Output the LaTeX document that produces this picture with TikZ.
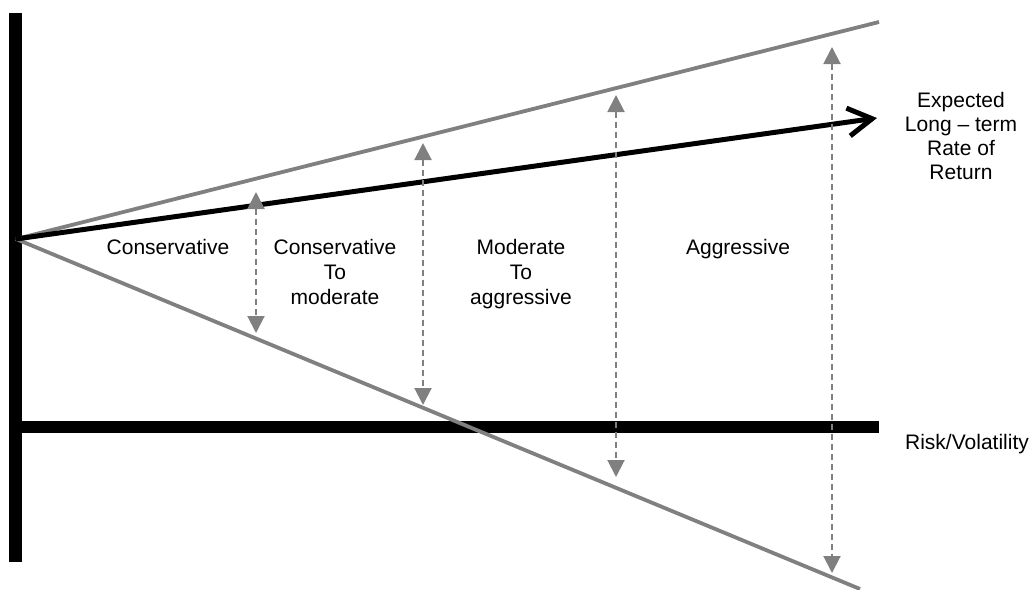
\documentclass[tikz,border=0pt]{standalone}
\usepackage{fontspec}
\setmainfont{Liberation Sans}
\usetikzlibrary{arrows.meta}
\definecolor{linegray}{RGB}{128,128,128}
\tikzset{
  axisbar/.style={line width=#1, black},
  edgeline/.style={line width=1.9pt, linegray},
  rangearrow/.style={line width=1pt, linegray, dash pattern=on 3pt off 2pt,
    {Triangle[length=8.5pt,width=8.5pt]}-{Triangle[length=8.5pt,width=8.5pt]}},
  returnarrow/.style={line width=2.5pt, black, -{Straight Barb[length=12pt,width=14pt]}},
  lbl/.style={font=\fontsize{10.5pt}{12.5pt}\selectfont, align=center, inner sep=0pt},
  rlbl/.style={font=\fontsize{10.5pt}{12pt}\selectfont, align=center, inner sep=0pt}
}
\begin{document}
\begin{tikzpicture}[x=0.5pt,y=-0.5pt]
\useasboundingbox (0,0) rectangle (1033,589);
% key points
\coordinate (O) at (16,239);
\coordinate (Uend) at (879,22);
\coordinate (Lend) at (860,589);
\coordinate (Rend) at (877,118);
\coordinate (vtop) at (15.5,13);
\coordinate (vbot) at (15.5,562);
\coordinate (hleft) at (9,427);
\coordinate (hright) at (879,427);
% axes
\draw[axisbar=6.5pt] (vtop) -- (vbot);
\draw[axisbar=6pt] (hleft) -- (hright);
% cone
\draw[edgeline] (O) -- (Uend);
\draw[edgeline] (O) -- (Lend);
% expected return arrow
\draw[returnarrow] (O) -- (Rend);
% range arrows
\coordinate (a1t) at (256,192); \coordinate (a1b) at (256,333);
\coordinate (a2t) at (423,143); \coordinate (a2b) at (423,405);
\coordinate (a3t) at (616,95);  \coordinate (a3b) at (616,477);
\coordinate (a4t) at (832,47);  \coordinate (a4b) at (832,573);
\draw[rangearrow] (a1t) -- (a1b);
\draw[rangearrow] (a2t) -- (a2b);
\draw[rangearrow] (a3t) -- (a3b);
\draw[rangearrow] (a4t) -- (a4b);
% labels
\node[lbl] (cons) at (168,247) {Conservative};
\node[lbl] (ctm) at (335,272) {Conservative\\To\\moderate};
\node[lbl] (mta) at (521,274) {Moderate\\To\\aggressive};
\node[lbl] (aggr) at (738,249) {Aggressive};
\node[rlbl] (ret) at (961,136) {Expected\\Long – term\\Rate of\\Return};
\node[lbl] (risk) at (967,444) {Risk/Volatility};
\end{tikzpicture}
\end{document}
